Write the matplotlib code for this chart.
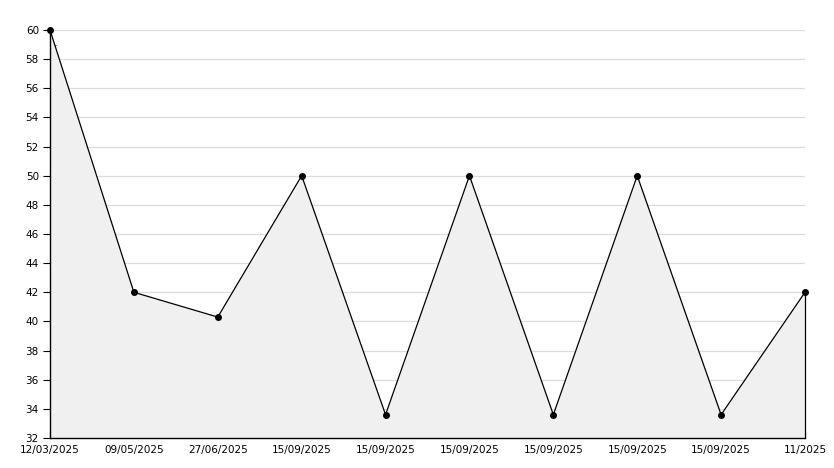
import matplotlib
matplotlib.use("Agg")
import matplotlib.pyplot as plt
from matplotlib.ticker import MultipleLocator

labels = ["12/03/2025", "09/05/2025", "27/06/2025", "15/09/2025", "15/09/2025",
          "15/09/2025", "15/09/2025", "15/09/2025", "15/09/2025", "11/2025"]
values = [60, 42, 40.3, 50, 33.6, 50, 33.6, 50, 33.6, 42]
y_min, y_max = 32, 60

fig = plt.figure(figsize=(8.34, 4.68), dpi=100)
ax = fig.add_axes([50 / 834, 30 / 468, 755 / 834, 408 / 468])

x = list(range(len(values)))
ax.fill_between(x, y_min, values, color="#f0f0f0", zorder=2, linewidth=0)
ax.plot(x, values, color="black", linewidth=0.9, marker="o", markersize=4,
        zorder=4, clip_on=False)
ax.vlines(x[-1], y_min, values[-1], color="black", linewidth=0.9, zorder=3,
          clip_on=False)

ax.set_xlim(0, len(values) - 1)
ax.set_ylim(y_min, y_max)
ax.set_xticks(x)
ax.set_xticklabels(labels)
ax.yaxis.set_major_locator(MultipleLocator(2))
ax.yaxis.set_minor_locator(MultipleLocator(1))

ax.grid(axis="y", which="major", color="#dcdcdc", linewidth=0.9, zorder=1)
ax.set_axisbelow(True)

for side in ["top", "right"]:
    ax.spines[side].set_visible(False)
for side in ["left", "bottom"]:
    ax.spines[side].set_linewidth(1.0)
    ax.spines[side].set_zorder(5)

ax.tick_params(axis="y", which="major", direction="out", length=5, labelsize=7.5, pad=3)
ax.tick_params(axis="y", which="minor", direction="in", length=4)
ax.tick_params(axis="x", which="major", direction="in", length=5, labelsize=7.5, pad=5)

fig.savefig("out.png", dpi=100)
